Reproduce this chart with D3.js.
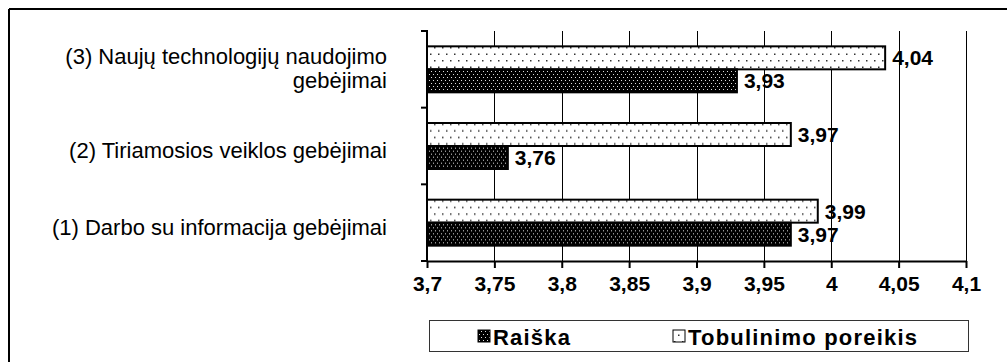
<!DOCTYPE html>
<html>
<head>
<meta charset="utf-8">
<script src="https://cdn.jsdelivr.net/npm/d3@7"></script>
<style>
  body { margin: 0; background: #fff; }
  svg { display: block; font-family: "Liberation Sans", Arial, sans-serif; }
</style>
</head>
<body>
<div id="chart"></div>
<script>
// categories, top to bottom as drawn
const categories = [
    ["(3) Naujų technologijų naudojimo", "gebėjimai"],
    ["(2) Tiriamosios veiklos gebėjimai"],
    ["(1) Darbo su informacija gebėjimai"]
];
const series = ["Tobulinimo poreikis", "Raiška"];
const tobulinimo = [4.04, 3.97, 3.99];
const raiska = [3.93, 3.76, 3.97];
const tickValues = [3.7, 3.75, 3.8, 3.85, 3.9, 3.95, 4.0, 4.05, 4.1];

const width = 1007, height = 362;
const plot = { left: 427, right: 966, top: 31, bottom: 261 };

const fmt = d => String(+d.toFixed(2)).replace(".", ",");

const svg = d3.select("#chart").append("svg")
    .attr("width", width)
    .attr("height", height);

const defs = svg.append("defs");
// light dotted fill
const pLight = defs.append("pattern").attr("id", "pLight")
    .attr("patternUnits", "userSpaceOnUse").attr("width", 8).attr("height", 13);
pLight.append("rect").attr("width", 8).attr("height", 13).attr("fill", "#fff");
pLight.append("rect").attr("x", 2).attr("y", 3).attr("width", 1.5).attr("height", 1.5).attr("fill", "#333");
pLight.append("rect").attr("x", 6).attr("y", 9.5).attr("width", 1.5).attr("height", 1.5).attr("fill", "#333");
// dark fill with white dots
const pDark = defs.append("pattern").attr("id", "pDark")
    .attr("patternUnits", "userSpaceOnUse").attr("width", 4).attr("height", 6);
pDark.append("rect").attr("width", 4).attr("height", 6).attr("fill", "#000");
pDark.append("rect").attr("x", 1).attr("y", 1).attr("width", 1).attr("height", 1).attr("fill", "#ddd");
pDark.append("rect").attr("x", 3).attr("y", 4).attr("width", 1).attr("height", 1).attr("fill", "#ddd");

const fills = { "Tobulinimo poreikis": "url(#pLight)", "Raiška": "url(#pDark)" };

// outer frame (cropped on right and bottom)
svg.append("line").attr("x1", 9).attr("x2", width).attr("y1", 9).attr("y2", 9)
    .attr("stroke", "#000").attr("stroke-width", 2);
svg.append("line").attr("x1", 9).attr("x2", 9).attr("y1", 9).attr("y2", height)
    .attr("stroke", "#000").attr("stroke-width", 2);

const x = d3.scaleLinear().domain([3.7, 4.1]).range([plot.left, plot.right]);
const y = d3.scaleBand().domain(d3.range(categories.length)).range([plot.top, plot.bottom]);
const ySub = d3.scaleBand().domain(series).range([0, y.bandwidth()]).paddingOuter(0.667);

// grid lines
svg.append("g").selectAll("line")
    .data(tickValues.slice(1))
    .enter().append("line")
    .attr("x1", d => Math.round(x(d)) + 0.5).attr("x2", d => Math.round(x(d)) + 0.5)
    .attr("y1", plot.top).attr("y2", plot.bottom)
    .attr("stroke", "#000").attr("stroke-width", 1)
    .attr("shape-rendering", "crispEdges");

// bars
const rows = categories.map((c, i) => ({ i, values: [
    { s: "Tobulinimo poreikis", v: tobulinimo[i] },
    { s: "Raiška", v: raiska[i] }
] }));

const groups = svg.append("g").selectAll("g")
    .data(rows).enter().append("g")
    .attr("transform", d => `translate(0,${y(d.i)})`);

groups.selectAll("rect")
    .data(d => d.values).enter().append("rect")
    .attr("x", x(3.7))
    .attr("y", d => ySub(d.s))
    .attr("width", d => x(d.v) - x(3.7))
    .attr("height", ySub.bandwidth())
    .attr("fill", d => fills[d.s])
    .attr("stroke", "#000")
    .attr("stroke-width", 2);

groups.selectAll("text")
    .data(d => d.values).enter().append("text")
    .attr("x", d => x(d.v) + 7)
    .attr("y", d => ySub(d.s) + ySub.bandwidth() / 2)
    .attr("dy", "0.36em")
    .style("font-size", "21px")
    .style("font-weight", "bold")
    .text(d => fmt(d.v));

// x axis
const xAxis = svg.append("g")
    .attr("transform", `translate(0,${plot.bottom})`)
    .call(d3.axisBottom(x).tickValues(tickValues).tickSize(7).tickSizeOuter(0).tickFormat(fmt));
xAxis.select(".domain").attr("stroke", "#000").attr("stroke-width", 2);
xAxis.selectAll(".tick line").attr("stroke", "#000").attr("stroke-width", 2);
xAxis.selectAll(".tick text")
    .attr("y", 15)
    .style("font-size", "21px")
    .style("font-weight", "bold")
    .style("font-family", "Liberation Sans, Arial, sans-serif")
    .attr("fill", "#000");

// y axis: line with ticks at category boundaries
const yBounds = d3.range(categories.length + 1).map(i => plot.top + i * y.step());
svg.append("line").attr("x1", plot.left).attr("x2", plot.left)
    .attr("y1", plot.top - 1).attr("y2", plot.bottom)
    .attr("stroke", "#000").attr("stroke-width", 2);
svg.append("g").selectAll("line")
    .data(yBounds).enter().append("line")
    .attr("x1", plot.left - 6).attr("x2", plot.left)
    .attr("y1", d => d).attr("y2", d => d)
    .attr("stroke", "#000").attr("stroke-width", 2);

// category labels
const lineH = 24;
svg.append("g").selectAll("text")
    .data(categories).enter().append("text")
    .attr("text-anchor", "end")
    .attr("x", 387)
    .attr("y", (d, i) => y(i) + y.bandwidth() / 2 + (d.length > 1 ? -1 : 4) - (d.length - 1) * lineH / 2)
    .style("font-size", "22px")
    .each(function (d) {
        d3.select(this).selectAll("tspan").data(d).enter().append("tspan")
            .attr("x", 387)
            .attr("dy", (t, j) => j === 0 ? "0.36em" : lineH)
            .text(t => t);
    });

// legend
const legend = svg.append("g");
legend.append("rect").attr("x", 429.5).attr("y", 320.5).attr("width", 539).attr("height", 31)
    .attr("fill", "#fff").attr("stroke", "#333").attr("stroke-width", 1);
const legendItems = [
    { s: "Raiška", x: 478 },
    { s: "Tobulinimo poreikis", x: 673 }
];
legendItems.forEach(it => {
    legend.append("rect").attr("x", it.x).attr("y", 330).attr("width", 12).attr("height", 12)
        .attr("fill", fills[it.s]).attr("stroke", "#000").attr("stroke-width", 1);
    legend.append("text").attr("x", it.x + 15).attr("y", 337).attr("dy", "0.36em")
        .style("font-size", "22px").style("font-weight", "bold")
        .style("letter-spacing", "1.2px")
        .text(it.s);
});
</script>
</body>
</html>
